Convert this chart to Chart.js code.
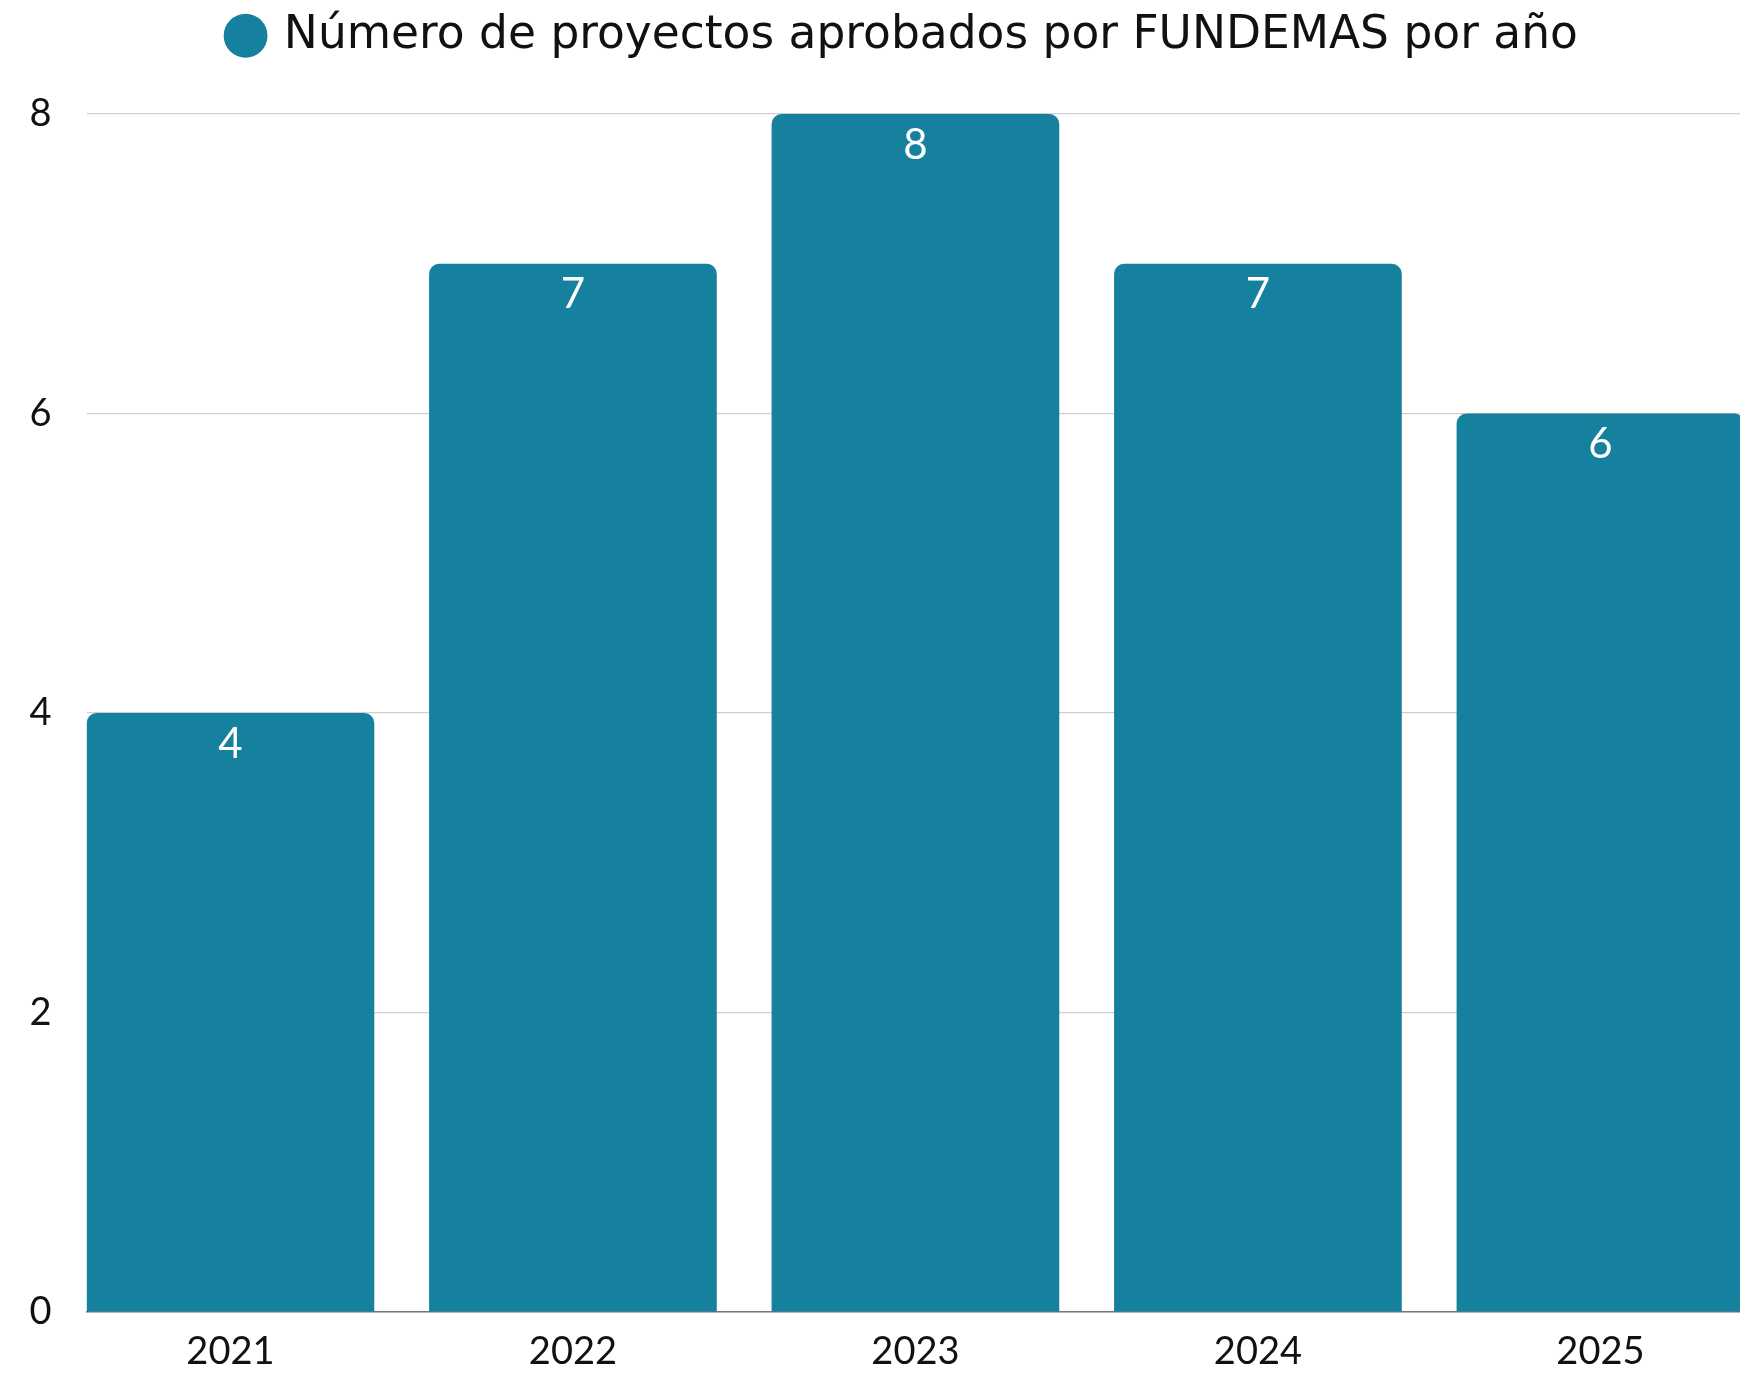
<!DOCTYPE html>
<html>
<head>
<meta charset="utf-8">
<script src="https://cdn.jsdelivr.net/npm/chart.js@4.4.0/dist/chart.umd.min.js"></script>
<style>
  html, body { margin: 0; padding: 0; background: #ffffff; overflow: hidden; }
  #wrap { position: relative; width: 1740px; height: 1373px; }
</style>
</head>
<body>
<div id="wrap"><canvas id="c" width="1740" height="1373"></canvas></div>
<script>
const categories = ['2021', '2022', '2023', '2024', '2025'];
const projectCounts = [4, 7, 8, 7, 6];
const seriesLabel = 'Número de proyectos aprobados por FUNDEMAS por año';
const yTicks = [0, 2, 4, 6, 8];

const BAR_COLOR = '#16809f';
const FONT = 'Lato';
const LEGEND_FONT = '"DejaVu Sans"';
const TICK_FS = 38;
const LEGEND_FS = 45.5;
const LABEL_FS = 42;

const legendSpace = {
  id: 'legendSpace',
  afterInit(chart) {
    const lg = chart.legend;
    if (!lg) return;
    const orig = lg.fit;
    lg.fit = function () { orig.call(this); this.height = 114; };
  }
};

const barLabels = {
  id: 'barLabels',
  afterDatasetsDraw(chart) {
    const ctx = chart.ctx;
    const meta = chart.getDatasetMeta(0);
    ctx.save();
    ctx.fillStyle = '#ffffff';
    ctx.font = LABEL_FS + 'px ' + FONT;
    ctx.textAlign = 'center';
    ctx.textBaseline = 'middle';
    meta.data.forEach((bar, i) => {
      ctx.fillText(String(projectCounts[i]), bar.x, bar.y + 31);
    });
    ctx.restore();
  }
};

new Chart(document.getElementById('c'), {
  type: 'bar',
  data: {
    datasets: [{
      label: seriesLabel,
      data: projectCounts.map((v, i) => ({ x: i, y: v })),
      backgroundColor: BAR_COLOR,
      borderRadius: { topLeft: 10, topRight: 10, bottomLeft: 0, bottomRight: 0 },
      borderSkipped: 'start',
      categoryPercentage: 1,
      barPercentage: 0.84
    }]
  },
  options: {
    responsive: false,
    animation: false,
    devicePixelRatio: 1,
    layout: { padding: { left: 22, right: -46, top: 0, bottom: 0 } },
    plugins: {
      legend: {
        display: true,
        position: 'top',
        labels: {
          usePointStyle: true,
          pointStyle: 'circle',
          boxHeight: 31,
          boxWidth: 31,
          padding: 13,
          color: '#111111',
          font: { family: LEGEND_FONT, size: LEGEND_FS }
        }
      },
      tooltip: { enabled: false }
    },
    scales: {
      x: {
        type: 'linear',
        min: -0.42,
        max: 4.4075,
        offset: false,
        afterBuildTicks(scale) { scale.ticks = categories.map((c, i) => ({ value: i })); },
        afterFit(scale) { scale.height = 61; },
        ticks: {
          stepSize: 1,
          includeBounds: false,
          autoSkip: false,
          maxRotation: 0,
          padding: 17,
          color: '#111111',
          font: { family: FONT, size: TICK_FS },
          callback: (v) => categories[v] ?? ''
        },
        grid: { display: false, drawTicks: false },
        border: { display: true, color: '#777777', width: 1.5 }
      },
      y: {
        min: 0,
        max: 8,
        afterBuildTicks(scale) { scale.ticks = yTicks.map(v => ({ value: v })); },
        afterFit(scale) { scale.width = 64.6; },
        ticks: {
          stepSize: 2,
          padding: 35,
          color: '#111111',
          font: { family: FONT, size: TICK_FS }
        },
        grid: { color: '#cfcfcf', lineWidth: 1.2, drawTicks: false },
        border: { display: false }
      }
    }
  },
  plugins: [legendSpace, barLabels]
});
</script>
</body>
</html>
